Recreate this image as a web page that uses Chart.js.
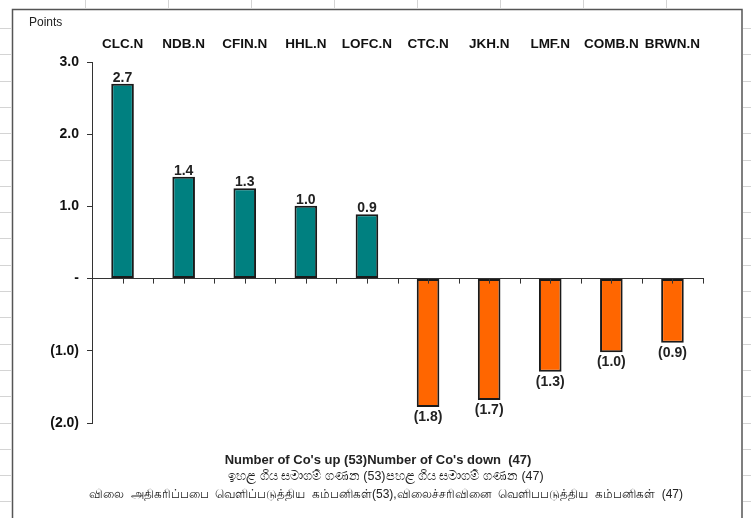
<!DOCTYPE html>
<html>
<head>
<meta charset="utf-8">
<script src="https://cdn.jsdelivr.net/npm/chart.js@4/dist/chart.umd.min.js"></script>
<style>
  body { margin: 0; background: #fff; }
  canvas { display: block; }
</style>
</head>
<body>
<canvas id="movers-chart" width="751" height="518"></canvas>
<script>
const companies = ['CLC.N', 'NDB.N', 'CFIN.N', 'HHL.N', 'LOFC.N', 'CTC.N', 'JKH.N', 'LMF.N', 'COMB.N', 'BRWN.N'];
const points = [2.70, 1.41, 1.25, 1.01, 0.89, -1.78, -1.68, -1.29, -1.02, -0.89];
const yTicks = [3, 2, 1, 0, -1, -2];
const footerLines = [
    "Number of Co's up (53)Number of Co's down  (47)",
    'ඉහළ ගිය සමාගම් ගණන (53)පහළ ගිය සමාගම් ගණන (47)',
    'விலை  அதிகரிப்பபை  வெளிப்படுத்திய  கம்பனிகள்(53),விலைச்சரிவினை  வெளிபபடுத்திய  கம்பனிகள்  (47)'
];

const FONT = '"Liberation Sans", Arial, sans-serif';

function fmt(v) {
    if (v === 0) return '-';
    return v < 0 ? '(' + (-v).toFixed(1) + ')' : v.toFixed(1);
}

// spreadsheet cell lines around the chart object + the frame
const sheetPlugin = {
    id: 'sheet',
    beforeDraw(chart) {
        const ctx = chart.ctx;
        ctx.save();
        ctx.fillStyle = '#fff';
        ctx.fillRect(0, 0, chart.width, chart.height);
        ctx.strokeStyle = '#d4d4d4';
        ctx.lineWidth = 1;
        ctx.beginPath();
        for (let y = 28; y < chart.height; y += 26.3) {
            ctx.moveTo(0, Math.round(y) + 0.5); ctx.lineTo(11, Math.round(y) + 0.5);
            ctx.moveTo(743, Math.round(y) + 0.5); ctx.lineTo(751, Math.round(y) + 0.5);
        }
        for (let x = 85; x < 742; x += 83) {
            ctx.moveTo(Math.round(x) + 0.5, 0); ctx.lineTo(Math.round(x) + 0.5, 8);
        }
        ctx.stroke();
        ctx.strokeStyle = '#555';
        ctx.lineWidth = 1.5;
        ctx.strokeRect(12.5, 9.5, 729.5, 520);
        ctx.restore();
    }
};

const labelPlugin = {
    id: 'labels',
    afterDatasetsDraw(chart) {
        const ctx = chart.ctx;
        const xs = chart.scales.x;
        const zeroY = chart.scales.y.getPixelForValue(0);
        ctx.save();
        // tick marks at category centres and boundaries
        ctx.strokeStyle = '#333';
        ctx.lineWidth = 1;
        ctx.beginPath();
        const step = (xs.right - xs.left) / companies.length;
        for (let i = 0; i <= companies.length * 2; i++) {
            const x = Math.round(xs.left + i * step / 2) + 0.5;
            ctx.moveTo(x, zeroY);
            ctx.lineTo(x, zeroY + 5);
        }
        ctx.stroke();

        // value labels
        ctx.fillStyle = '#222';
        ctx.font = 'bold 14px ' + FONT;
        ctx.textAlign = 'center';
        ctx.textBaseline = 'middle';
        chart.getDatasetMeta(0).data.forEach((bar, i) => {
            const v = points[i];
            const y = v >= 0 ? bar.y - 6 : bar.y + 10;
            ctx.fillText(fmt(v), bar.x, y);
        });

        // unit + footer
        ctx.textAlign = 'left';
        ctx.font = '12px ' + FONT;
        ctx.fillText('Points', 29, 23);
        ctx.textAlign = 'center';
        ctx.font = 'bold 13px ' + FONT;
        ctx.fillText(footerLines[0], 378, 460);
        ctx.font = '12.5px ' + FONT;
        ctx.fillText(footerLines[1], 386, 477);
        ctx.font = '12px ' + FONT;
        ctx.fillText(footerLines[2], 386, 495);
        ctx.restore();
    }
};

new Chart(document.getElementById('movers-chart'), {
    type: 'bar',
    data: {
        labels: companies,
        datasets: [{
            data: points,
            backgroundColor: points.map(v => v >= 0 ? '#008080' : '#ff6600'),
            borderColor: '#1a1a1a',
            borderWidth: 2,
            borderSkipped: false,
            barPercentage: 0.37,
            categoryPercentage: 1
        }]
    },
    options: {
        responsive: false,
        animation: false,
        devicePixelRatio: 1,
        layout: { padding: { left: 0, right: 48, top: 0, bottom: 95 } },
        plugins: { legend: { display: false }, tooltip: { enabled: false } },
        scales: {
            x: {
                position: { y: 0 },
                grid: { display: false },
                border: { display: true, color: '#333', width: 1 },
                ticks: { display: false }
            },
            x2: {
                type: 'category',
                labels: companies,
                position: 'top',
                grid: { display: false, drawTicks: false },
                border: { display: false },
                ticks: {
                    color: '#111',
                    font: { family: FONT, size: 13.5, weight: 'bold' },
                    padding: 10,
                    maxRotation: 0,
                    autoSkip: false
                },
                afterFit(scale) { scale.height = 62; }
            },
            y: {
                min: -2,
                max: 3,
                afterBuildTicks(scale) { scale.ticks = yTicks.map(v => ({ value: v })); },
                grid: { drawOnChartArea: false, drawTicks: true, tickLength: 5, color: '#333' },
                border: { display: true, color: '#333', width: 1 },
                ticks: {
                    color: '#111',
                    font: { family: FONT, size: 14, weight: 'bold' },
                    padding: 8,
                    callback: v => fmt(v)
                },
                afterFit(scale) { scale.width = 92; }
            }
        }
    },
    plugins: [sheetPlugin, labelPlugin]
});
</script>
</body>
</html>
